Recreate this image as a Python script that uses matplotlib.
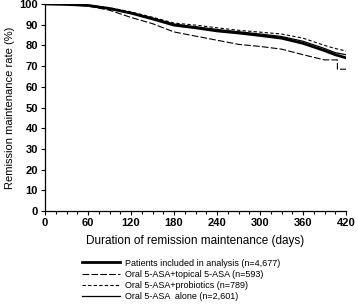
import matplotlib
matplotlib.use("Agg")
import matplotlib.pyplot as plt
from matplotlib.ticker import MultipleLocator

plt.rcParams["font.family"] = ["Liberation Sans", "DejaVu Sans"]

# ── Data ───────────────────────────────────────────────
days = [0, 30, 60, 90, 120, 150, 180, 210, 240, 270, 300, 330, 360, 390, 405, 420]
rate_all = [100, 99.8, 99.3, 97.8, 95.6, 92.8, 89.8, 88.5, 87.0, 86.0, 84.8, 83.5, 81.0, 77.5, 75.5, 74.0]
rate_alone = [100, 99.8, 99.4, 98.0, 95.8, 93.2, 90.3, 89.0, 87.7, 86.6, 85.5, 84.3, 82.0, 78.5, 76.5, 75.5]
rate_probio = [100, 99.9, 99.5, 98.2, 96.2, 93.6, 90.8, 89.8, 88.5, 87.3, 86.4, 85.5, 83.5, 80.0, 78.5, 77.3]

days_topical = [0, 30, 60, 90, 120, 150, 180, 210, 240, 270, 300, 330, 360, 390, 408, 408, 420]
rate_topical = [100, 99.7, 99.0, 97.0, 93.5, 90.5, 86.5, 84.5, 82.5, 80.5, 79.5, 78.2, 75.5, 73.0, 73.0, 68.5, 68.5]

labels = [
    "Patients included in analysis (n=4,677)",
    "Oral 5-ASA+topical 5-ASA (n=593)",
    "Oral 5-ASA+probiotics (n=789)",
    "Oral 5-ASA  alone (n=2,601)",
]
x_ticks = [0, 60, 120, 180, 240, 300, 360, 420]
y_ticks = [0, 10, 20, 30, 40, 50, 60, 70, 80, 90, 100]

# ── Figure ─────────────────────────────────────────────
fig = plt.figure(figsize=(3.58, 3.04), dpi=100)
ax = fig.add_axes([45 / 358, 1 - 211 / 304, 301 / 358, 207 / 304])

ax.plot(days, rate_all, color="black", lw=2.0, label=labels[0])
ax.plot(days_topical, rate_topical, color="black", lw=0.8, ls=(0, (6, 2)), label=labels[1])
ax.plot(days, rate_probio, color="black", lw=0.8, ls=(0, (3, 2)), label=labels[2])
ax.plot(days, rate_alone, color="black", lw=0.9, label=labels[3])

ax.set_xlim(0, 420)
ax.set_ylim(0, 100)
ax.set_xticks(x_ticks)
ax.set_yticks(y_ticks)
ax.xaxis.set_minor_locator(MultipleLocator(15))
ax.tick_params(axis="both", which="major", length=3, width=0.8, labelsize=8, pad=2)
ax.tick_params(axis="x", which="minor", length=2, width=0.8)
for lab in ax.get_xticklabels() + ax.get_yticklabels():
    lab.set_fontweight("bold")

for side in ["top", "right"]:
    ax.spines[side].set_visible(False)
for side in ["left", "bottom"]:
    ax.spines[side].set_linewidth(0.9)

ax.set_xlabel("Duration of remission maintenance (days)", fontsize=8.5, labelpad=5)
ax.set_ylabel("Remission maintenance rate (%)", fontsize=8, labelpad=3)

fig.legend(
    loc="upper left",
    bbox_to_anchor=(78 / 358, 1 - 255 / 304),
    frameon=False,
    fontsize=6.5,
    handlelength=4.2,
    handletextpad=0.6,
    labelspacing=0.25,
    borderaxespad=0,
)

fig.savefig("out.png", dpi=100)
